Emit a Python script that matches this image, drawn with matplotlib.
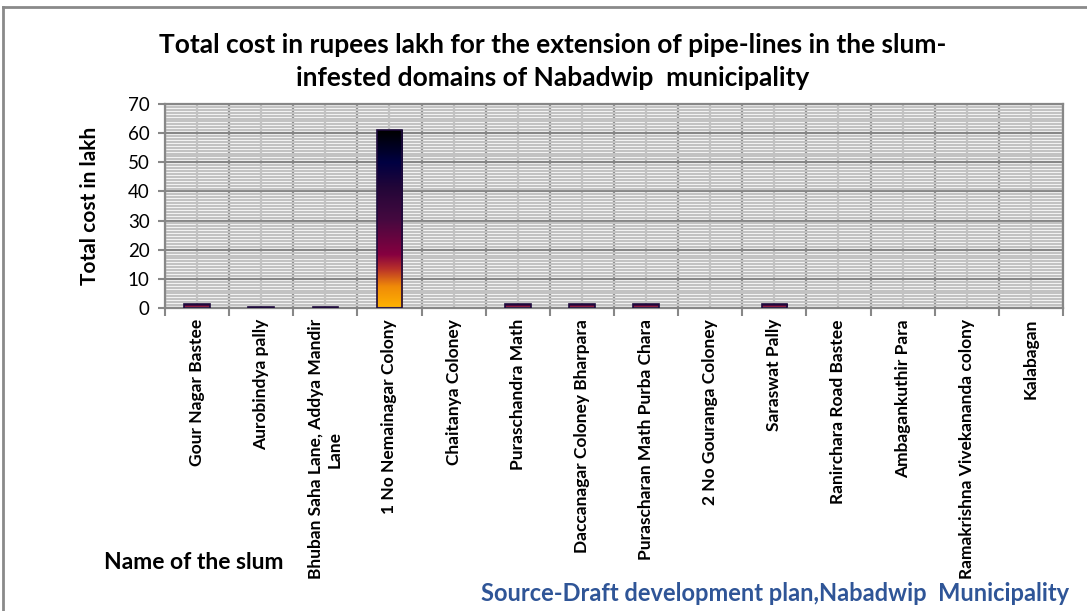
import matplotlib.pyplot as plt
from matplotlib.colors import LinearSegmentedColormap
from matplotlib.lines import Line2D
import numpy as np

slums = [
    "Gour Nagar Bastee",
    "Aurobindya pally",
    "Bhuban Saha Lane, Addya Mandir\nLane",
    "1 No Nemainagar Colony",
    "Chaitanya Coloney",
    "Puraschandra Math",
    "Daccanagar Coloney Bharpara",
    "Purascharan Math Purba Chara",
    "2 No Gouranga Coloney",
    "Saraswat Pally",
    "Ranirchara Road Bastee",
    "Ambagankuthir Para",
    "Ramakrishna Vivekananda colony",
    "Kalabagan",
]
cost_lakh = [1.5, 0.5, 0.5, 61, 0, 1.5, 1.5, 1.5, 0, 1.5, 0, 0, 0, 0]

plt.rcParams["font.family"] = ["Lato", "DejaVu Sans"]

MAJOR = "#878787"
MINOR = "#c2c2c2"

# bar fill: gold at the base fading through crimson and purple to black
bar_cmap = LinearSegmentedColormap.from_list(
    "bar_fill",
    [
        (0.00, "#ffb400"),
        (0.12, "#f08a08"),
        (0.22, "#b8302a"),
        (0.30, "#860040"),
        (0.50, "#44093f"),
        (0.68, "#220638"),
        (0.82, "#000042"),
        (1.00, "#000000"),
    ],
)

fig = plt.figure(figsize=(10.87, 6.11), dpi=100)
ax = fig.add_axes([0.1518, 0.4959, 0.8261, 0.3339])

x = np.arange(len(slums))
width = 0.4
edge_colors = ["#1e0a3c" if v > 0 else "none" for v in cost_lakh]
bars = ax.bar(x, cost_lakh, width=width, color="none",
              edgecolor=edge_colors, linewidth=1.2, zorder=3)
gradient = np.linspace(0, 1, 256).reshape(-1, 1)
for bar, value in zip(bars, cost_lakh):
    if value <= 0:
        continue
    x0 = bar.get_x()
    img = ax.imshow(gradient, cmap=bar_cmap, origin="lower", aspect="auto",
                    extent=[x0, x0 + width, 0, value], zorder=2.5)
    img.set_clip_path(bar)

ax.set_xlim(-0.5, len(slums) - 0.5)
ax.set_ylim(0, 70)

# category boundaries as major ticks, names on the centre (minor) ticks
ax.set_xticks(np.arange(len(slums) + 1) - 0.5)
ax.set_xticklabels([])
ax.set_xticks(x, slums, minor=True)
ax.set_yticks(range(0, 71, 10))
ax.set_yticks(range(0, 71), minor=True)

ax.tick_params(axis="x", which="major", length=6, width=1.5, color=MAJOR)
ax.tick_params(axis="x", which="minor", length=0, pad=8)
ax.tick_params(axis="y", which="major", length=5, width=1.5, color=MAJOR,
               labelsize=13.5, pad=6)
ax.tick_params(axis="y", which="minor", length=0)
for label in ax.get_xticklabels(minor=True):
    label.set_rotation(90)
    label.set_fontweight("bold")
    label.set_fontsize(12.5)
    label.set_multialignment("center")
    label.set_va("top")

ax.set_axisbelow(True)
ax.grid(which="major", axis="both", color=MAJOR, linewidth=1.6)
ax.grid(which="minor", axis="both", color=MINOR, linewidth=1.6)
for spine in ax.spines.values():
    spine.set_color(MAJOR)
    spine.set_linewidth(1.6)

ax.set_ylabel("Total cost in lakh", fontsize=15, fontweight="bold", labelpad=20)

fig.text(0.508, 0.9,
         "Total cost in rupees lakh for the extension of pipe-lines in the slum-\n"
         "infested domains of Nabadwip  municipality",
         ha="center", va="center", fontsize=19, fontweight="bold",
         linespacing=1.45)
fig.text(0.178, 0.08, "Name of the slum", ha="center", va="center",
         fontsize=16.5, fontweight="bold")
fig.text(0.984, 0.029, "Source-Draft development plan,Nabadwip  Municipality",
         ha="right", va="center", fontsize=17, fontweight="bold",
         color="#2f5597")

# outer chart frame (top and left edges)
fig.add_artist(Line2D([0.003, 1.0], [0.989, 0.989], transform=fig.transFigure,
                      color="#8a8a8a", linewidth=2))
fig.add_artist(Line2D([0.003, 0.003], [0.0, 0.989], transform=fig.transFigure,
                      color="#8a8a8a", linewidth=2))

fig.savefig("out.png", dpi=100)
